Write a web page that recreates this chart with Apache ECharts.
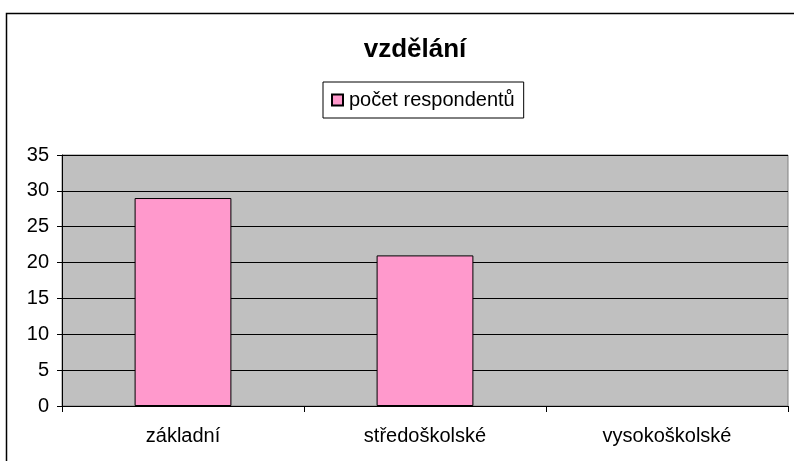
<!DOCTYPE html>
<html>
<head>
<meta charset="utf-8">
<script src="https://cdn.jsdelivr.net/npm/echarts@6/dist/echarts.min.js"></script>
<style>
  html, body { margin: 0; padding: 0; background: #fff; }
  #main { width: 794px; height: 461px; }
</style>
</head>
<body>
<div id="main"></div>
<script>
var kategorie = ['základní', 'středoškolské', 'vysokoškolské'];
var pocetRespondentu = [29, 21, 0];
var nazevSerie = 'počet respondentů';

var dom = document.getElementById('main');
var myChart = echarts.init(dom, null, { renderer: 'canvas' });

// nulovy sloupec nema byt videt ani jako cara
var dataSloupcu = pocetRespondentu.map(function (v) {
  return v === 0 ? { value: v, itemStyle: { borderWidth: 0 } } : v;
});

var option = {
  animation: false,
  backgroundColor: '#ffffff',
  textStyle: { fontFamily: 'Arial' },
  // ramecek kolem celeho grafu (vpravo a dole presahuje obrazek)
  graphic: [{
    type: 'rect',
    shape: { x: 6.5, y: 13.5, width: 820, height: 480 },
    style: { fill: 'none', stroke: '#000', lineWidth: 1.5 },
    silent: true
  }],
  title: {
    text: 'vzdělání',
    left: 410,
    textAlign: 'center',
    top: 32,
    textStyle: { color: '#000', fontFamily: 'Arial', fontSize: 26, fontWeight: 'bold' }
  },
  legend: {
    data: [nazevSerie],
    left: 323,
    top: 82,
    padding: [8, 9, 8, 8],
    itemGap: 0,
    itemWidth: 11,
    itemHeight: 11,
    borderColor: '#000',
    borderWidth: 1,
    icon: 'rect',
    textStyle: { color: '#000', fontFamily: 'Arial', fontSize: 20, padding: [0, 0, 0, 1] }
  },
  grid: {
    left: 62,
    right: 6,
    top: 155,
    bottom: 55,
    show: true,
    backgroundColor: '#C0C0C0',
    borderColor: '#808080',
    borderWidth: 1
  },
  xAxis: {
    type: 'category',
    data: kategorie,
    axisLine: { lineStyle: { color: '#000', width: 1 } },
    axisTick: { show: true, alignWithLabel: false, length: 6, lineStyle: { color: '#000' } },
    axisLabel: { color: '#000', fontFamily: 'Arial', fontSize: 20, margin: 20 },
    splitLine: { show: false }
  },
  yAxis: {
    type: 'value',
    min: 0,
    max: 35,
    interval: 5,
    axisLine: { show: true, lineStyle: { color: '#000', width: 1 } },
    axisTick: { show: true, length: 5, lineStyle: { color: '#000' } },
    axisLabel: { color: '#000', fontFamily: 'Arial', fontSize: 20, margin: 13 },
    splitLine: { show: true, lineStyle: { color: '#000', width: 1 } }
  },
  series: [{
    name: nazevSerie,
    type: 'bar',
    data: dataSloupcu,
    barCategoryGap: '60%',
    itemStyle: { color: '#FF99CC', borderColor: '#000', borderWidth: 1 }
  }]
};

myChart.setOption(option);

window.addEventListener('resize', () => {
  myChart.resize();
});
</script>
</body>
</html>
